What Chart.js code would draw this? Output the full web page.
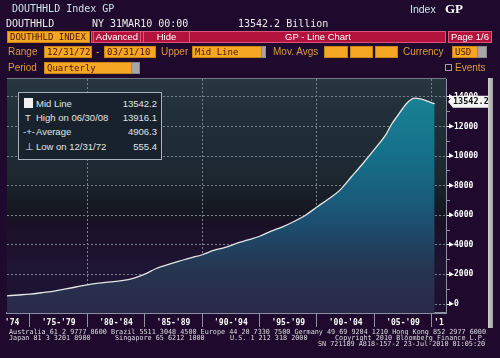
<!DOCTYPE html>
<html><head><meta charset="utf-8">
<script src="https://cdn.jsdelivr.net/npm/chart.js@4.4.1/dist/chart.umd.min.js"></script>
<style>
html,body{margin:0;padding:0;background:#1f0a2e;overflow:hidden;}
#wrap{position:relative;width:500px;height:358px;background:#1f0a2e;font-family:"Liberation Sans",Arial,sans-serif;}
#c{position:absolute;left:0;top:0;}
.a{position:absolute;white-space:pre;line-height:1;}
.mono{font-family:"DejaVu Sans Mono",monospace;}
.ob{position:absolute;background:#f5a623;border:1px solid #c98512;box-sizing:border-box;height:12px;color:#4a1400;font-size:9px;line-height:10px;padding-left:2px;white-space:pre;font-family:"DejaVu Sans Mono",monospace;overflow:hidden;}
.gt{position:absolute;background:#a7a7a7;height:12px;box-sizing:border-box;border:1px solid #8a8a8a;}
.rb{position:absolute;background:#b3123d;border:1px solid #d9557a;box-sizing:border-box;height:12px;color:#fff;font-size:9.5px;line-height:10px;text-align:center;white-space:pre;}
.lbl{position:absolute;color:#dd9b3e;font-size:10px;line-height:12px;white-space:pre;}
.leg{position:absolute;color:#e4e4e4;font-size:9.5px;line-height:11px;white-space:pre;}
.ft{position:absolute;color:#dcdcdc;font-size:7px;line-height:7px;white-space:pre;font-family:"DejaVu Sans Mono",monospace;transform-origin:0 0;}
</style></head>
<body>
<div id="wrap">
<canvas id="c" width="500" height="358"></canvas>

<div class="a mono" style="left:12px;top:4px;font-size:10px;color:#cfe3ee;">DOUTHHLD Index GP</div>
<div class="a" style="left:410px;top:4px;font-size:10.5px;color:#cfe3ee;">Index</div>
<div class="a" style="left:445px;top:2px;font-size:13px;font-weight:bold;color:#ffffff;font-family:'Liberation Serif',serif;">GP</div>
<div class="a mono" style="left:6px;top:19px;font-size:10px;color:#ececec;">DOUTHHLD</div>
<div class="a mono" style="left:92px;top:19px;font-size:10px;color:#ececec;">NY 31MAR10 00:00</div>
<div class="a mono" style="left:238px;top:19px;font-size:10px;color:#ececec;">13542.2 Billion</div>

<div class="ob" style="left:7px;top:31px;width:83px;">DOUTHHLD INDEX</div>
<div class="rb" style="left:91px;top:31px;width:355px;"></div>
<div class="rb" style="left:93px;top:31px;width:48px;">Advanced</div>
<div class="rb" style="left:143px;top:31px;width:47px;">Hide</div>
<div class="a" style="left:250px;top:32px;width:136px;text-align:center;color:#fff;font-size:9.5px;">GP - Line Chart</div>
<div class="rb" style="left:448px;top:31px;width:44px;">Page 1/6</div>

<div class="lbl" style="left:8px;top:46px;">Range</div>
<div class="ob" style="left:44px;top:46px;width:48px;">12/31/72</div>
<div class="lbl" style="left:96px;top:46px;">-</div>
<div class="ob" style="left:104px;top:46px;width:52px;">03/31/10</div>
<div class="lbl" style="left:161px;top:46px;">Upper</div>
<div class="ob" style="left:192px;top:46px;width:70px;">Mid Line</div>
<div class="gt" style="left:261px;top:46px;width:5px;"></div>
<div class="lbl" style="left:273px;top:46px;">Mov. Avgs</div>
<div class="ob" style="left:324px;top:46px;width:24px;"></div>
<div class="ob" style="left:350px;top:46px;width:23px;"></div>
<div class="ob" style="left:375px;top:46px;width:23px;"></div>
<div class="lbl" style="left:403px;top:46px;">Currency</div>
<div class="ob" style="left:452px;top:46px;width:26px;">USD</div>
<div class="gt" style="left:477px;top:46px;width:10px;"></div>

<div class="lbl" style="left:8px;top:62px;">Period</div>
<div class="ob" style="left:44px;top:62px;width:88px;">Quarterly</div>
<div class="gt" style="left:131px;top:62px;width:9px;"></div>
<div class="a" style="left:445px;top:64px;width:7px;height:7px;border:1px solid #a0a0a0;box-sizing:border-box;"></div>
<div class="lbl" style="left:455px;top:62px;">Events</div>

<div class="a" style="left:488px;top:78px;width:5px;height:250px;background:linear-gradient(90deg,#d0d0d0,#a0a0a0);"></div>

<div class="a" style="left:18px;top:92px;width:144px;height:68px;border:1px solid #a9b0b8;box-sizing:border-box;background:#17222c;"></div>
<div class="a" style="left:24px;top:98px;width:9px;height:10px;background:#f0f0f0;"></div>
<div class="leg" style="left:36px;top:98px;">Mid Line</div>
<div class="leg" style="left:100px;top:98px;width:57px;text-align:right;">13542.2</div>
<div class="leg" style="left:25px;top:112px;">T</div>
<div class="leg" style="left:36px;top:112px;">High on 06/30/08</div>
<div class="leg" style="left:100px;top:112px;width:57px;text-align:right;">13916.1</div>
<div class="leg" style="left:23px;top:126px;">-+-</div>
<div class="leg" style="left:36px;top:126px;">Average</div>
<div class="leg" style="left:100px;top:126px;width:57px;text-align:right;">4906.3</div>
<div class="leg" style="left:25px;top:141px;">⊥</div>
<div class="leg" style="left:36px;top:141px;">Low on 12/31/72</div>
<div class="leg" style="left:100px;top:141px;width:57px;text-align:right;">555.4</div>

<div class="ft" id="ft1" style="left:9px;top:329px;">Australia 61 2 9777 8600 Brazil 5511 3048 4500 Europe 44 20 7330 7500 Germany 49 69 9204 1210 Hong Kong 852 2977 6000</div>
<div class="ft" style="left:9px;top:335px;">Japan 81 3 3201 8900</div>
<div class="ft" style="left:115px;top:335px;">Singapore 65 6212 1000</div>
<div class="ft" style="left:230px;top:335px;">U.S. 1 212 318 2000</div>
<div class="ft" style="left:335px;top:335px;">Copyright 2010 Bloomberg Finance L.P.</div>
<div class="ft" style="left:318px;top:341px;">SN 721109 A818-157-2 23-Jul-2010 01:05:20</div>
</div>

<script>
// Period ends as decimal years (12/31/72 = 1973.0 ... 03/31/10 = 2010.25)
const periodEnds = [1973.0,1974.0,1975.0,1976.0,1977.0,1978.0,1979.0,1980.0,1981.0,1982.0,
  1983.0,1984.0,1985.0,1986.0,1987.0,1988.0,1989.0,1990.0,1991.0,1992.0,
  1993.0,1994.0,1995.0,1996.0,1997.0,1998.0,1999.0,2000.0,2001.0,2002.0,
  2003.0,2004.0,2005.0,2006.0,2006.5,2007.0,2007.5,2008.0,2008.5,2009.0,
  2009.5,2010.0,2010.25];
// Household debt, billions USD
const debtBillions = [555.4,610,670,760,860,1000,1150,1300,1410,1490,
  1580,1740,2020,2400,2660,2900,3120,3330,3620,3820,
  4100,4330,4580,4920,5220,5580,6000,6560,7100,7700,
  8600,9500,10450,11450,12150,12700,13250,13700,13916.1,13870,
  13750,13600,13542.2];
const lastValueLabel = "13542.2";

const periodSeparators = [1975,1980,1985,1990,1995,2000,2005,2010];
const decadeGrid = [1980,1990,2000,2010];
const periodLabelPos = [1973.44,1977.5,1982.5,1987.5,1992.5,1997.5,2002.5,2007.5,2010.62];
const periodLabels = ["'74","'75-'79","'80-'84","'85-'89","'90-'94","'95-'99","'00-'04","'05-'09","'1"];

const yTickValues = [0,1000,2000,3000,4000,5000,6000,7000,8000,9000,10000,11000,12000,13000,14000];
const yMajorStep = 2000;

const xMin = 1973.0, xMax = 2011.24;
const yMin = -608, yMax = 15210;

// fit the tiny footer text to the reference width
(function(){
  const f1 = document.getElementById('ft1');
  const w = f1.getBoundingClientRect().width;
  const k = w > 0 ? 477 / w : 1;
  document.querySelectorAll('.ft').forEach(el=>{ el.style.transform = 'scaleX(' + k + ')'; });
})();

const near = (a,b)=>Math.abs(a-b)<1e-6;
const isIn = (arr,v)=>arr.some(a=>near(a,v));

const bgPlugin = {
  id:'bg',
  beforeDraw(chart){
    const {ctx, chartArea:a} = chart;
    const g = ctx.createLinearGradient(0,a.top,0,a.bottom);
    g.addColorStop(0,'#28373f');
    g.addColorStop(0.12,'#22303a');
    g.addColorStop(0.42,'#1c2730');
    g.addColorStop(0.55,'#141922');
    g.addColorStop(0.62,'#1a1026');
    g.addColorStop(0.8,'#1e1434');
    g.addColorStop(1,'#1b1030');
    ctx.save();
    ctx.fillStyle = g;
    ctx.fillRect(a.left,a.top,a.right-a.left,a.bottom-a.top);
    ctx.fillStyle='#6f7a86';
    ctx.fillRect(a.left,a.top-1,a.right-a.left,1);
    ctx.restore();
  },
  afterDraw(chart){
    const {ctx, chartArea:a} = chart;
    const ys = chart.scales.y;
    ctx.save();
    ctx.fillStyle='#ffffff';
    yTickValues.forEach(v=>{
      if (v % yMajorStep !== 0) return;
      const y = ys.getPixelForValue(v);
      ctx.beginPath();
      ctx.moveTo(a.right+3,y-3);
      ctx.lineTo(a.right+8,y);
      ctx.lineTo(a.right+3,y+2);
      ctx.closePath();
      ctx.fill();
    });
    // current value tag
    const lastV = debtBillions[debtBillions.length-1];
    const ty = ys.getPixelForValue(lastV) - 2;
    const x0 = a.right+2;
    ctx.beginPath();
    ctx.moveTo(x0,ty);
    ctx.lineTo(x0+5,ty-6);
    ctx.lineTo(x0+41,ty-6);
    ctx.lineTo(x0+41,ty+6);
    ctx.lineTo(x0+5,ty+6);
    ctx.closePath();
    ctx.fillStyle='#f4f4f4';
    ctx.fill();
    ctx.fillStyle='#101010';
    ctx.font='bold 8.5px "DejaVu Sans Mono"';
    ctx.textBaseline='middle';
    ctx.fillText(lastValueLabel,x0+5,ty+0.5);
    ctx.restore();
  }
};

const ctx = document.getElementById('c').getContext('2d');
new Chart(ctx,{
  type:'line',
  data:{datasets:[{
    data: periodEnds.map((t,i)=>({x:t,y:debtBillions[i]})),
    borderColor:'#e6e6e6',
    borderWidth:1.3,
    pointRadius:0,
    cubicInterpolationMode:'monotone',
    fill:'start',
    backgroundColor:(c)=>{
      const a = c.chart.chartArea;
      if(!a) return '#16708a';
      const g = c.chart.ctx.createLinearGradient(0,a.top,0,a.bottom);
      g.addColorStop(0,'#1a8798');
      g.addColorStop(0.3,'#15728a');
      g.addColorStop(0.5,'#195d7c');
      g.addColorStop(0.68,'#1f4666');
      g.addColorStop(0.82,'#26344f');
      g.addColorStop(1,'#2a2949');
      return g;
    }
  }]},
  options:{
    responsive:false, animation:false, devicePixelRatio:1,
    layout:{padding:{left:7,top:79,right:0,bottom:0}},
    plugins:{legend:{display:false},tooltip:{enabled:false}},
    scales:{
      x:{
        type:'linear', min:xMin, max:xMax, z:1,
        afterBuildTicks:(s)=>{
          const vals = periodSeparators.concat(periodLabelPos).sort((p,q)=>p-q);
          s.ticks = vals.map(v=>({value:v}));
        },
        afterFit:(s)=>{s.height=45; s.paddingLeft=0; s.paddingRight=0;},
        ticks:{
          autoSkip:false, maxRotation:0, minRotation:0, padding:-9,
          color:'#ffffff',
          font:{family:'"DejaVu Sans Mono"',weight:'bold',size:8},
          callback:(v)=>{
            const i = periodLabelPos.findIndex(p=>near(p,v));
            return i>=0 ? periodLabels[i] : '';
          }
        },
        grid:{
          color:(c)=> (c.tick && isIn(decadeGrid,c.tick.value)) ? '#7a848f' : 'rgba(0,0,0,0)',
          tickColor:(c)=> (c.tick && isIn(periodSeparators,c.tick.value)) ? '#8c93a0' : 'rgba(0,0,0,0)',
          tickLength:14, lineWidth:1, tickWidth:1
        },
        border:{display:true,color:'#8a91a0',width:2,dash:[2,2]}
      },
      y:{
        position:'right', min:yMin, max:yMax, z:1,
        afterBuildTicks:(s)=>{ s.ticks = yTickValues.map(v=>({value:v})); },
        afterFit:(s)=>{s.width=54; s.paddingTop=0; s.paddingBottom=0;},
        ticks:{
          padding:4, color:'#ffffff',
          font:{family:'"DejaVu Sans Mono"',weight:'bold',size:8},
          callback:(v)=> (v % yMajorStep === 0) ? String(v) : ''
        },
        grid:{
          color:(c)=> (c.tick && c.tick.value % yMajorStep === 0) ? '#77818c' : 'rgba(0,0,0,0)',
          tickColor:(c)=> (c.tick && c.tick.value % yMajorStep === 0) ? '#ffffff' : '#8c93a0',
          tickLength:4, lineWidth:1
        },
        border:{display:true,color:'#8a91a0',width:1,dash:[2,2]}
      }
    }
  },
  plugins:[bgPlugin]
});
</script>
</body></html>
